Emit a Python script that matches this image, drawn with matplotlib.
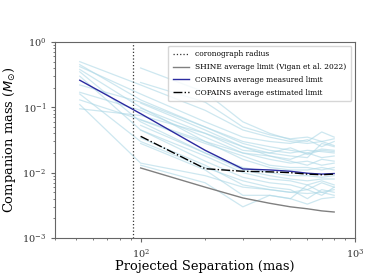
import numpy as np
import matplotlib
matplotlib.use("Agg")
import matplotlib.pyplot as plt

plt.rcParams["font.family"] = "DejaVu Serif"

# separations (mas)
sep = [52, 100, 200, 300, 400, 500, 600, 700, 800]
nan = np.nan

# individual detection limits (Msun), nan = no data
curves = [
    [0.50, 0.22, 0.090, 0.045, 0.035, 0.030, 0.028, 0.030, 0.026],
    [0.42, 0.16, 0.060, 0.035, 0.030, 0.028, 0.032, 0.025, 0.030],
    [0.38, 0.10, 0.030, 0.016, 0.012, 0.011, 0.011, 0.012, 0.011],
    [0.35, 0.06, 0.020, 0.011, 0.009, 0.008, 0.0075, 0.008, 0.008],
    [0.30, 0.045, 0.015, 0.0085, 0.007, 0.0065, 0.0055, 0.007, 0.006],
    [0.22, 0.12, 0.050, 0.028, 0.022, 0.020, 0.022, 0.021, 0.020],
    [0.17, 0.09, 0.035, 0.020, 0.016, 0.014, 0.015, 0.013, 0.014],
    [0.16, 0.03, 0.012, 0.0075, 0.006, 0.0055, 0.004, 0.0055, 0.005],
    [0.13, 0.065, 0.030, 0.020, 0.018, 0.016, 0.020, 0.017, 0.018],
    [0.11, 0.014, 0.009, 0.006, 0.0055, 0.005, 0.0048, 0.005, 0.0045],
    [0.095, 0.075, 0.040, 0.025, 0.020, 0.024, 0.019, 0.022, 0.021],
    [0.45, 0.13, 0.050, 0.030, 0.025, 0.022, 0.020, 0.023, 0.022],
    [nan, 0.40, 0.17, 0.060, 0.040, 0.032, 0.030, 0.042, 0.035],
    [nan, 0.24, 0.12, 0.050, 0.038, 0.033, 0.035, 0.030, 0.033],
    [nan, 0.116, 0.045, 0.025, 0.018, 0.015, 0.013, 0.016, 0.015],
    [nan, 0.053, 0.020, 0.012, 0.010, 0.009, 0.009, 0.0085, 0.009],
    [nan, 0.045, 0.018, 0.010, 0.008, 0.0075, 0.0065, 0.0075, 0.0065],
    [nan, 0.034, 0.013, 0.0065, 0.0055, 0.005, 0.0055, 0.0045, 0.006],
    [nan, 0.028, 0.011, 0.0045, 0.0045, 0.004, 0.0065, 0.005, 0.0055],
    [nan, 0.064, 0.028, 0.018, 0.013, 0.012, 0.012, 0.011, 0.012],
    [nan, 0.097, 0.040, 0.022, 0.020, 0.018, 0.017, 0.028, 0.025],
    [nan, 0.013, 0.007, 0.003, 0.0045, 0.004, 0.0033, 0.004, 0.0042],
]

avg_measured = [0.26, 0.08, 0.022, 0.0114, 0.011, 0.0105, 0.0098, 0.0095, 0.0097]
avg_estimated = [nan, 0.036, 0.0115, 0.0105, 0.0103, 0.0100, 0.0095, 0.0093, 0.0095]
shine = [nan, 0.0118, 0.006, 0.0041, 0.0034, 0.0030, 0.0028, 0.0026, 0.0025]
coro_radius = 92.5

fig = plt.figure(figsize=(3.74, 2.8), dpi=100)
ax = fig.add_axes([0.148, 0.15, 0.801, 0.70])

for c in curves:
    ax.plot(sep, c, color="lightblue", alpha=0.6, lw=0.9)

ax.axvline(coro_radius, color="#333333", ls=":", lw=0.9, label="coronograph radius")
ax.plot(sep, shine, color="gray", lw=1.0, label="SHINE average limit (Vigan et al. 2022)")
ax.plot(sep, avg_measured, color="#2b2ba0", lw=1.0, label="COPAINS average measured limit")
ax.plot(sep, avg_estimated, color="k", ls="-.", lw=1.0, label="COPAINS average estimated limit")

ax.set_xscale("log")
ax.set_yscale("log")
ax.set_xlim(40, 1000)
ax.set_ylim(1e-3, 1)
ax.set_xlabel("Projected Separation (mas)", fontsize=9.4, labelpad=0)
ax.set_ylabel("Companion mass ($M_{\\odot}$)", fontsize=9.4, labelpad=3)

for s in ax.spines.values():
    s.set_color("#666666")
ax.tick_params(which="both", colors="#666666", labelcolor="#333333", labelsize=7)
ax.tick_params(which="major", length=3)
ax.tick_params(which="minor", length=1.5)

ax.legend(loc="upper right", fontsize=5.4, frameon=True, borderpad=0.6, labelspacing=0.65,
          handlelength=2.2)

fig.savefig("out.png", dpi=100)
